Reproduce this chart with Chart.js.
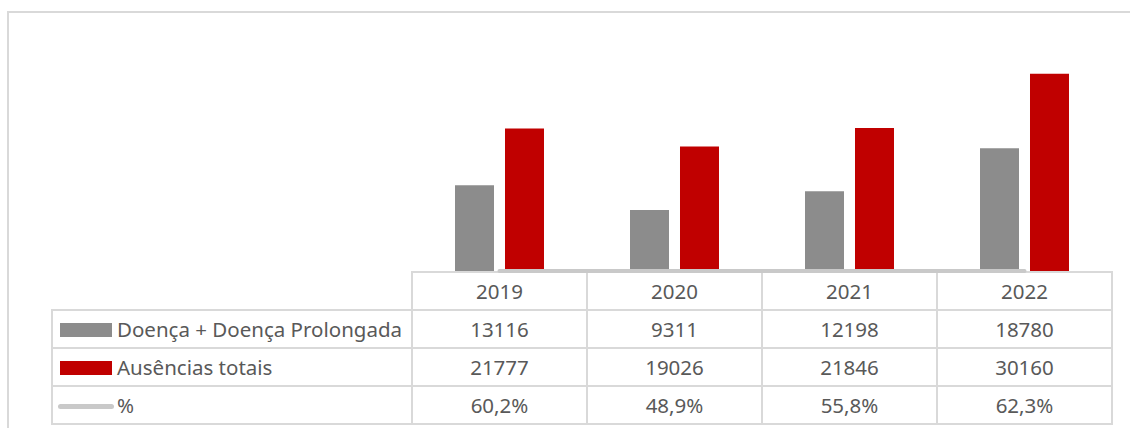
<!DOCTYPE html>
<html>
<head>
<meta charset="utf-8">
<script src="https://cdn.jsdelivr.net/npm/chart.js@4/dist/chart.umd.min.js"></script>
<style>
  html, body { margin: 0; padding: 0; background: #ffffff; }
  #wrap { position: relative; width: 1130px; height: 428px; overflow: hidden; background: #fff; }
  #frame { position: absolute; left: 7px; top: 11px; width: 1140px; height: 440px;
           border-top: 2px solid #d9d9d9; border-left: 2px solid #d9d9d9; box-sizing: border-box; }
  #chart { position: absolute; left: 0; top: 0; z-index: 2; }
  #tbl { position: absolute; z-index: 1; border-collapse: collapse; table-layout: fixed;
         font-family: "Noto Sans", "Open Sans", sans-serif; font-size: 20.5px; color: #595959; }
  #tbl td { border: 2px solid #d9d9d9; height: 36px; padding: 0; text-align: center; white-space: nowrap; line-height: 36px; }
  #tbl td.blank { border-top: none; border-left: none; }
  #tbl td.lab { text-align: left; padding-left: 7px; }
  .key { display: inline-block; vertical-align: middle; margin-right: 5px; position: relative; top: -2px; }
</style>
</head>
<body>
<div id="wrap">
  <div id="frame"></div>
  <table id="tbl"></table>
  <canvas id="chart" width="1130" height="428"></canvas>
</div>
<script>
const categories = ["2019", "2020", "2021", "2022"];
const seriesNames = ["Doença + Doença Prolongada", "Ausências totais", "%"];
const doencaValues = [13116, 9311, 12198, 18780];
const ausenciasValues = [21777, 19026, 21846, 30160];
const pctValues = [0.602, 0.489, 0.558, 0.623];
const pctLabels = ["60,2%", "48,9%", "55,8%", "62,3%"];

const colors = ["#8c8c8c", "#c00000", "#c9c9c9"];

function buildTable(chart) {
  const ca = chart.chartArea;
  const n = categories.length;
  const colW = (ca.right - ca.left) / n;
  const labW = ca.left - 52;
  const tbl = document.getElementById('tbl');
  tbl.style.left = (52 - 1) + 'px';
  tbl.style.top = (ca.bottom) + 'px';
  let html = '<colgroup><col style="width:' + labW + 'px">';
  for (let i = 0; i < n; i++) html += '<col style="width:' + colW + 'px">';
  html += '</colgroup>';
  html += '<tr><td class="blank"></td>' + categories.map(c => '<td>' + c + '</td>').join('') + '</tr>';
  const rows = [doencaValues.map(String), ausenciasValues.map(String), pctLabels];
  const keys = [
    '<span class="key" style="width:52px;height:14px;background:' + colors[0] + '"></span>',
    '<span class="key" style="width:52px;height:14px;background:' + colors[1] + '"></span>',
    '<span class="key" style="width:56px;height:5px;border-radius:3px;margin-left:-2px;margin-right:3px;top:-1px;background:' + colors[2] + '"></span>'
  ];
  rows.forEach((r, k) => {
    html += '<tr><td class="lab">' + keys[k] + seriesNames[k] + '</td>' + r.map(v => '<td>' + v + '</td>').join('') + '</tr>';
  });
  tbl.innerHTML = html;
}

const tablePlugin = {
  id: 'tablePlugin',
  afterLayout(chart) { buildTable(chart); }
};

new Chart(document.getElementById('chart'), {
  data: {
    labels: categories,
    datasets: [
      { type: 'line', label: seriesNames[2], data: pctValues, borderColor: colors[2], borderWidth: 4,
        borderCapStyle: 'round', pointRadius: 0, clip: false, order: 0, tension: 0 },
      { type: 'bar', label: seriesNames[0], data: doencaValues, backgroundColor: colors[0],
        categoryPercentage: 0.5714, barPercentage: 0.78, order: 1 },
      { type: 'bar', label: seriesNames[1], data: ausenciasValues, backgroundColor: colors[1],
        categoryPercentage: 0.5714, barPercentage: 0.78, order: 1 }
    ]
  },
  options: {
    responsive: false,
    animation: false,
    layout: { padding: { left: 412, right: 18, top: 42, bottom: 157 } },
    plugins: { legend: { display: false }, tooltip: { enabled: false } },
    scales: {
      x: { display: false, offset: true },
      y: { display: false, min: 0, max: 35000 }
    }
  },
  plugins: [tablePlugin]
});
</script>
</body>
</html>
